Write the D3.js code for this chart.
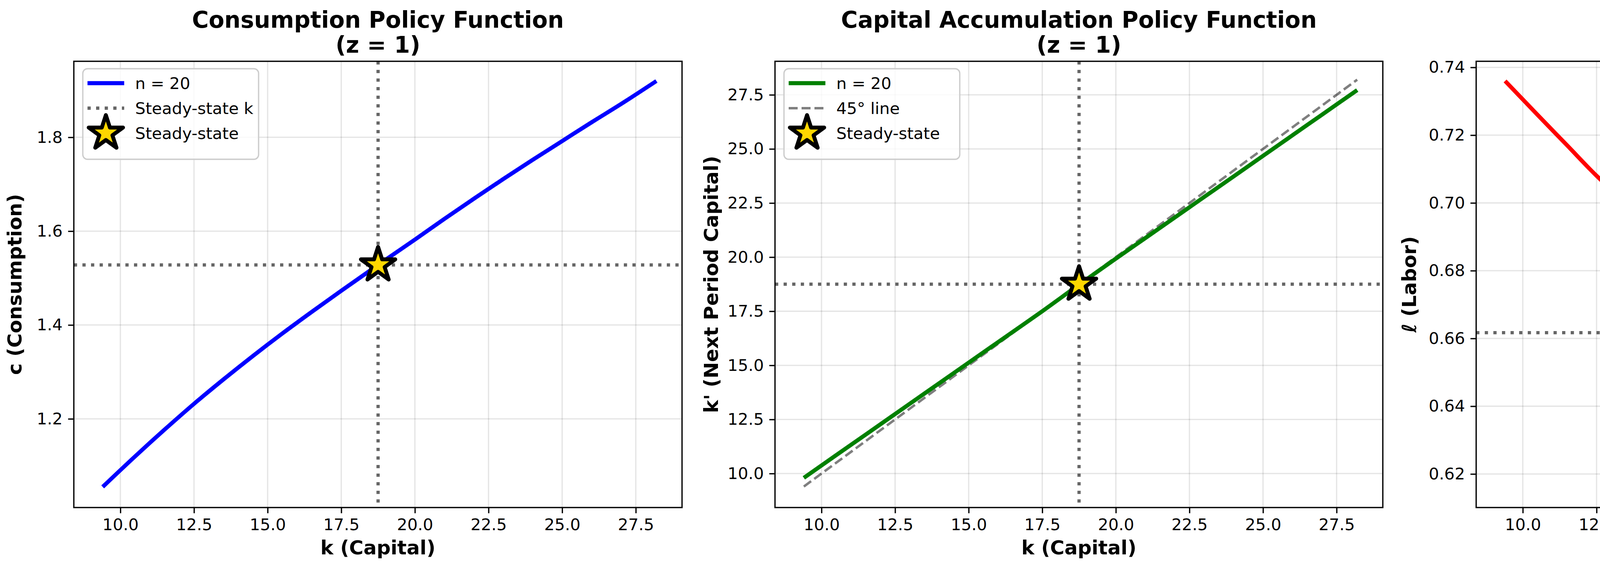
<!DOCTYPE html>
<html><head><meta charset="utf-8">
<script src="https://cdn.jsdelivr.net/npm/d3@7"></script>
<style>body{margin:0;background:#fff}</style></head>
<body><svg id="c" width="5364" height="1460"></svg>
<script>
const kGrid = [9.4,10.5,11.5,12.5,13.5,14.5,15.5,16.5,17.5,18.75,20,21,22,23,24,25,26,27,28.2];
const cVals = [1.055,1.120,1.177,1.232,1.284,1.334,1.382,1.428,1.473,1.528,1.582,1.626,1.669,1.711,1.752,1.792,1.832,1.871,1.920];
const kpVals = [9.80,10.85,11.80,12.75,13.70,14.65,15.60,16.55,17.50,18.73,19.93,20.88,21.83,22.78,23.73,24.68,25.63,26.58,27.72];
const lVals = [0.736,0.726,0.717,0.708,0.700,0.692,0.684,0.676,0.669,0.6617,0.654,0.648,0.642,0.637,0.632,0.627,0.623,0.620,0.616];
const kSS = 18.75, cSS = 1.528, kpSS = 18.75, lSS = 0.6617;
const xTicks = [10,12.5,15,17.5,20,22.5,25,27.5];
const yTicks1 = [1.2,1.4,1.6,1.8];
const yTicks2 = [10,12.5,15,17.5,20,22.5,25,27.5];
const yTicks3 = [0.62,0.64,0.66,0.68,0.70,0.72,0.74];

const svg = d3.select("#c");
const yTop = 157, yBot = 1300;
const panels = [
 {l:189,r:1746,ydom:[1.011,1.962],yt:yTicks1,yf:d3.format(".1f"),y:cVals,ss:cSS,color:"blue",
  title:"Consumption Policy Function",ylab:"c (Consumption)",ylx:55,legend:"left",
  items:[["line","n = 20"],["dot","Steady-state k"],["star","Steady-state"]]},
 {l:1984,r:3540,ydom:[8.43,29.05],yt:yTicks2,yf:d3.format(".1f"),y:kpVals,ss:kpSS,color:"green",
  title:"Capital Accumulation Policy Function",ylab:"k' (Next Period Capital)",ylx:1838,legend:"left",diag:true,
  items:[["line","n = 20"],["dash","45° line"],["star","Steady-state"]]},
 {l:3779,r:5339,ydom:[0.6101,0.7418],yt:yTicks3,yf:d3.format(".2f"),y:lVals,ss:lSS,color:"red",
  title:"Labor Policy Function",ylab:"ℓ (Labor)",ylx:3625,legend:"right",
  items:[["line","n = 20"],["star","Steady-state"]]}
];
const font = "DejaVu Sans";
const star = d3.symbol().type(d3.symbolStar).size(2400);
panels.forEach(p=>{
  const x = d3.scaleLinear().domain([8.42,29.07]).range([p.l,p.r]);
  const y = d3.scaleLinear().domain(p.ydom).range([yBot,yTop]);
  const g = svg.append("g");
  g.selectAll(".gx").data(xTicks).join("line").attr("x1",d=>x(d)).attr("x2",d=>x(d)).attr("y1",yTop).attr("y2",yBot).attr("stroke","#000").attr("stroke-opacity",0.1).attr("stroke-width",3.3);
  g.selectAll(".gy").data(p.yt).join("line").attr("y1",d=>y(d)).attr("y2",d=>y(d)).attr("x1",p.l).attr("x2",p.r).attr("stroke","#000").attr("stroke-opacity",0.1).attr("stroke-width",3.3);
  const xa = g.append("g").attr("transform",`translate(0,${yBot})`).call(d3.axisBottom(x).tickValues(xTicks).tickFormat(d3.format(".1f")).tickSize(14.6).tickPadding(14));
  const ya = g.append("g").attr("transform",`translate(${p.l},0)`).call(d3.axisLeft(y).tickValues(p.yt).tickFormat(p.yf).tickSize(14.6).tickPadding(14));
  [xa,ya].forEach(a=>{a.select(".domain").remove();a.selectAll("line").attr("stroke-width",3.3);a.selectAll("text").attr("font-family",font).attr("font-size",41.7).attr("fill","#000");});
  g.append("line").attr("x1",x(kSS)).attr("x2",x(kSS)).attr("y1",yTop).attr("y2",yBot).attr("stroke","#000").attr("stroke-opacity",0.6).attr("stroke-width",8.3).attr("stroke-dasharray","8.3,13.7");
  g.append("line").attr("x1",p.l).attr("x2",p.r).attr("y1",y(p.ss)).attr("y2",y(p.ss)).attr("stroke","#000").attr("stroke-opacity",0.6).attr("stroke-width",8.3).attr("stroke-dasharray","8.3,13.7");
  if(p.diag){
    const d=[kGrid[0],kGrid[kGrid.length-1]];
    g.append("line").attr("x1",x(d[0])).attr("y1",y(d[0])).attr("x2",x(d[1])).attr("y2",y(d[1])).attr("stroke","#000").attr("stroke-opacity",0.5).attr("stroke-width",6.25).attr("stroke-dasharray","23,10");
  }
  const line = d3.line().curve(d3.curveMonotoneX).x((d,i)=>x(kGrid[i])).y(d=>y(d));
  g.append("path").datum(p.y).attr("d",line).attr("fill","none").attr("stroke",p.color).attr("stroke-width",10.4);
  g.append("path").attr("d",star).attr("transform",`translate(${x(kSS)},${y(p.ss)})`).attr("fill","gold").attr("stroke","#000").attr("stroke-width",10).attr("stroke-linejoin","round");
  g.append("rect").attr("x",p.l).attr("y",yTop).attr("width",p.r-p.l).attr("height",yBot-yTop).attr("fill","none").attr("stroke","#000").attr("stroke-width",3.3);
  const cx=(p.l+p.r)/2;
  g.append("text").attr("x",cx).attr("y",71).attr("text-anchor","middle").attr("font-family",font).attr("font-weight","bold").attr("font-size",58.3).text(p.title);
  g.append("text").attr("x",cx).attr("y",135).attr("text-anchor","middle").attr("font-family",font).attr("font-weight","bold").attr("font-size",58.3).text("(z = 1)");
  g.append("text").attr("x",cx).attr("y",1420).attr("text-anchor","middle").attr("font-family",font).attr("font-weight","bold").attr("font-size",50).text("k (Capital)");
  g.append("text").attr("transform",`translate(${p.ylx},${(yTop+yBot)/2}) rotate(-90)`).attr("text-anchor","middle").attr("font-family",font).attr("font-weight","bold").attr("font-size",50).text(p.ylab);
  const n=p.items.length, bh = 40+n*64;
  const bw = p.legend==="left" ? 450 : 417;
  const bx = p.legend==="left" ? p.l+23 : p.r-22-bw, by = 176;
  const lg = g.append("g");
  lg.append("rect").attr("x",bx).attr("y",by).attr("width",bw).attr("height",bh).attr("rx",12).attr("fill","#fff").attr("fill-opacity",0.8).attr("stroke","#ccc").attr("stroke-width",3.3);
  p.items.forEach((it,i)=>{
    const ry = by+37+i*64, hx = bx+12;
    if(it[0]==="line") lg.append("line").attr("x1",hx).attr("x2",hx+94).attr("y1",ry).attr("y2",ry).attr("stroke",p.color).attr("stroke-width",10.4);
    if(it[0]==="dot") lg.append("line").attr("x1",hx).attr("x2",hx+94).attr("y1",ry).attr("y2",ry).attr("stroke","#000").attr("stroke-opacity",0.6).attr("stroke-width",8.3).attr("stroke-dasharray","8.3,13.7");
    if(it[0]==="dash") lg.append("line").attr("x1",hx).attr("x2",hx+94).attr("y1",ry).attr("y2",ry).attr("stroke","#000").attr("stroke-opacity",0.5).attr("stroke-width",6.25).attr("stroke-dasharray","23,10");
    if(it[0]==="star") lg.append("path").attr("d",star).attr("transform",`translate(${hx+47},${ry})`).attr("fill","gold").attr("stroke","#000").attr("stroke-width",10).attr("stroke-linejoin","round");
    lg.append("text").attr("x",hx+122).attr("y",ry+15).attr("font-family",font).attr("font-size",41.7).text(it[1]);
  });
});
</script></body></html>
